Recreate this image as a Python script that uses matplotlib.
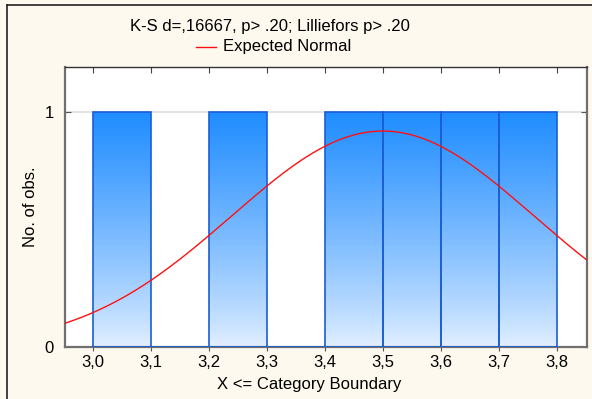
import numpy as np
import matplotlib.pyplot as plt
from matplotlib.lines import Line2D

# observations (upper category boundaries), bins and counts
observations = [3.1, 3.3, 3.5, 3.6, 3.7, 3.8]
bin_edges = [3.0, 3.1, 3.2, 3.3, 3.4, 3.5, 3.6, 3.7, 3.8]
counts = [1, 0, 1, 0, 1, 1, 1, 1]
x_ticks = [3.0, 3.1, 3.2, 3.3, 3.4, 3.5, 3.6, 3.7, 3.8]
x_tick_labels = ['3,0', '3,1', '3,2', '3,3', '3,4', '3,5', '3,6', '3,7', '3,8']
title = 'K-S d=,16667, p> .20; Lilliefors p> .20'

plt.rcParams['font.family'] = ['Liberation Sans', 'DejaVu Sans']

W, H = 592, 399
fig = plt.figure(figsize=(W / 100, H / 100), dpi=100)
fig.patch.set_facecolor('#fef9ee')
ax = fig.add_axes([65 / W, 1 - 347 / H, (587 - 65) / W, (347 - 67) / H])
ax.set_facecolor('white')

# outer frame (left and top edges visible)
fig.add_artist(Line2D([7 / W, 7 / W], [0, 1 - 5 / H], color='#222222', lw=1.2))
fig.add_artist(Line2D([7 / W, 1], [1 - 5 / H, 1 - 5 / H], color='#222222', lw=1.2))

ax.axhline(1, color='#e4e4e4', lw=1.5, zorder=0)

# gradient image used as bar fill
top = np.array([30, 140, 255]) / 255
bot = np.array([228, 240, 255]) / 255
t = np.linspace(0, 1, 256)[:, None] ** 0.85
grad = (bot * (1 - t) + top * t)[:, None, :]

lefts = bin_edges[:-1]
widths = np.diff(bin_edges)
bars = ax.bar(lefts, counts, width=widths, align='edge', facecolor='none',
              edgecolor='#1a5ed6', lw=1.2, zorder=3)
for b, c in zip(bars, counts):
    if c == 0:
        continue
    im = ax.imshow(grad, extent=[b.get_x(), b.get_x() + b.get_width(), 0, c],
                   origin='lower', aspect='auto', zorder=2)
    im.set_clip_path(b)
ax.set_xlim(2.952, 3.852)
ax.set_ylim(0, 1.19)

# expected normal
obs = np.array(observations)
n = len(obs)
mu = obs.mean()
sd = obs.std(ddof=1)
bw = bin_edges[1] - bin_edges[0]
xs = np.linspace(2.952, 3.852, 400)
ys = n * bw * np.exp(-0.5 * ((xs - mu) / sd) ** 2) / (sd * np.sqrt(2 * np.pi))
ax.plot(xs, ys, color='#ff1010', lw=1.0, zorder=4)

ax.set_xticks(x_ticks)
ax.set_xticklabels(x_tick_labels, fontsize=12)
ax.set_yticks([0, 1])
ax.set_yticklabels(['0', '1'], fontsize=12)
ax.tick_params(axis='x', direction='out', length=3, color='#555555', pad=3)
ax.tick_params(axis='y', direction='in', length=4, color='#555555', pad=8, right=True)
for side in ['left', 'bottom', 'right']:
    ax.spines[side].set_color('#707070')
    ax.spines[side].set_linewidth(1.6)
ax.spines['top'].set_color('#333333')
ax.spines['top'].set_linewidth(1.0)

# top ticks inward
sec = ax.secondary_xaxis('top')
sec.set_xticks(x_ticks)
sec.tick_params(direction='in', length=4, color='#444444', labeltop=False)
sec.spines['top'].set_visible(False)

ax.set_ylabel('No. of obs.', fontsize=12)
ax.yaxis.set_label_coords(-0.052, 0.5)
fig.text(309 / W, 1 - 385 / H, 'X <= Category Boundary', fontsize=12,
         ha='center', va='center')

fig.text(270 / W, 1 - 26 / H, title, fontsize=12, ha='center', va='center')
fig.add_artist(Line2D([196 / W, 216 / W], [1 - 47 / H, 1 - 47 / H], color='#ff1010', lw=1.0))
fig.text(223 / W, 1 - 47 / H, 'Expected Normal', fontsize=12, ha='left', va='center')

fig.savefig('out.png', dpi=100, facecolor=fig.get_facecolor())
